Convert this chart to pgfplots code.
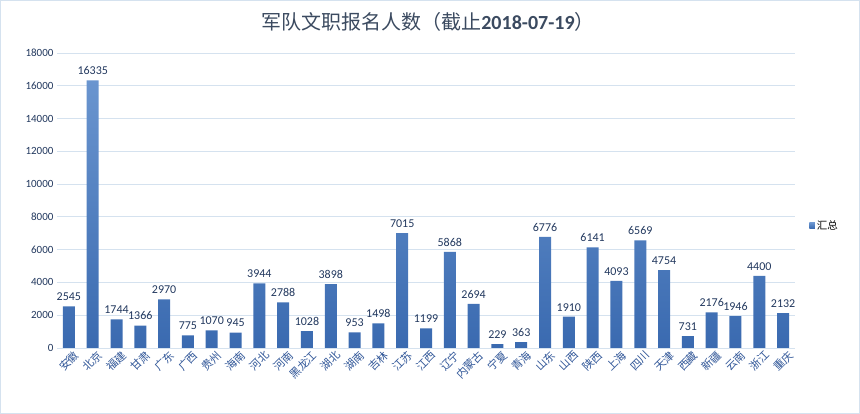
\documentclass[border=0pt]{standalone}
\usepackage{fontspec}
\setmainfont{Carlito}
\newfontfamily\cjk{Noto Sans CJK SC}
\usepackage{pgfplots}
\pgfplotsset{compat=1.18}
\usepackage{pgfplotstable}

\definecolor{barTop}{HTML}{6A95CF}
\definecolor{barBot}{HTML}{3A6AB0}
\definecolor{gridc}{HTML}{D5E2EF}
\definecolor{lblc}{HTML}{22385E}
\definecolor{tickc}{HTML}{2F5597}
\definecolor{titlec}{HTML}{3B4A60}

\pgfplotstableread{
idx val
0 2545
1 16335
2 1744
3 1366
4 2970
5 775
6 1070
7 945
8 3944
9 2788
10 1028
11 3898
12 953
13 1498
14 7015
15 1199
16 5868
17 2694
18 229
19 363
20 6776
21 1910
22 6141
23 4093
24 6569
25 4754
26 731
27 2176
28 1946
29 4400
30 2132
}\reg

\begin{document}
\begin{tikzpicture}
\useasboundingbox (0pt,0pt) rectangle (860pt,414pt);
\draw[gridc, line width=1.2pt] (0.6pt,0.6pt) rectangle (859.4pt,413.4pt);
\node[titlec, font=\fontsize{20}{24}\selectfont] at (428pt,392pt)
  {{\cjk 军队文职报名人数（截止}\textbf{2018-07-19}{\cjk ）}};

\begin{axis}[
  at={(57pt,66pt)}, anchor=south west,
  scale only axis, width=738pt, height=295pt,
  xmin=-0.5, xmax=30.5, ymin=0, ymax=18000,
  ytick={0,2000,...,18000},
  xtick=data,
  xticklabels={安徽,北京,福建,甘肃,广东,广西,贵州,海南,河北,河南,黑龙江,湖北,湖南,吉林,江苏,江西,辽宁,内蒙古,宁夏,青海,山东,山西,陕西,上海,四川,天津,西藏,新疆,云南,浙江,重庆},
  x tick label style={font=\cjk\fontsize{11}{12}\selectfont, rotate=45, anchor=north east, tickc, inner sep=1pt, yshift=-3pt, xshift=3pt},
  y tick label style={font=\fontsize{11}{12}\selectfont, lblc},
  /pgf/number format/assume math mode=true,
  scaled y ticks=false,
  yticklabel style={/pgf/number format/1000 sep={}},
  axis line style={draw=none},
  major tick style={draw=none},
  ymajorgrids, major grid style={gridc, line width=0.8pt},
  nodes near coords,
  every node near coord/.append style={font=\fontsize{12}{13}\selectfont, lblc, /pgf/number format/1000 sep={}, yshift=2pt},
  legend style={draw=none, fill=none, at={(1.015,0.415)}, anchor=west, font=\cjk\fontsize{10.5}{11}\selectfont},
  legend image code/.code={\fill[barBot!85!white] (0cm,-0.1cm) rectangle (0.2cm,0.1cm);},
]
\addplot[ybar, bar width=12pt, draw=none, top color=barTop, bottom color=barBot] table[x=idx, y=val] {\reg};
\addlegendentry{汇总}
\end{axis}
\end{tikzpicture}
\end{document}
